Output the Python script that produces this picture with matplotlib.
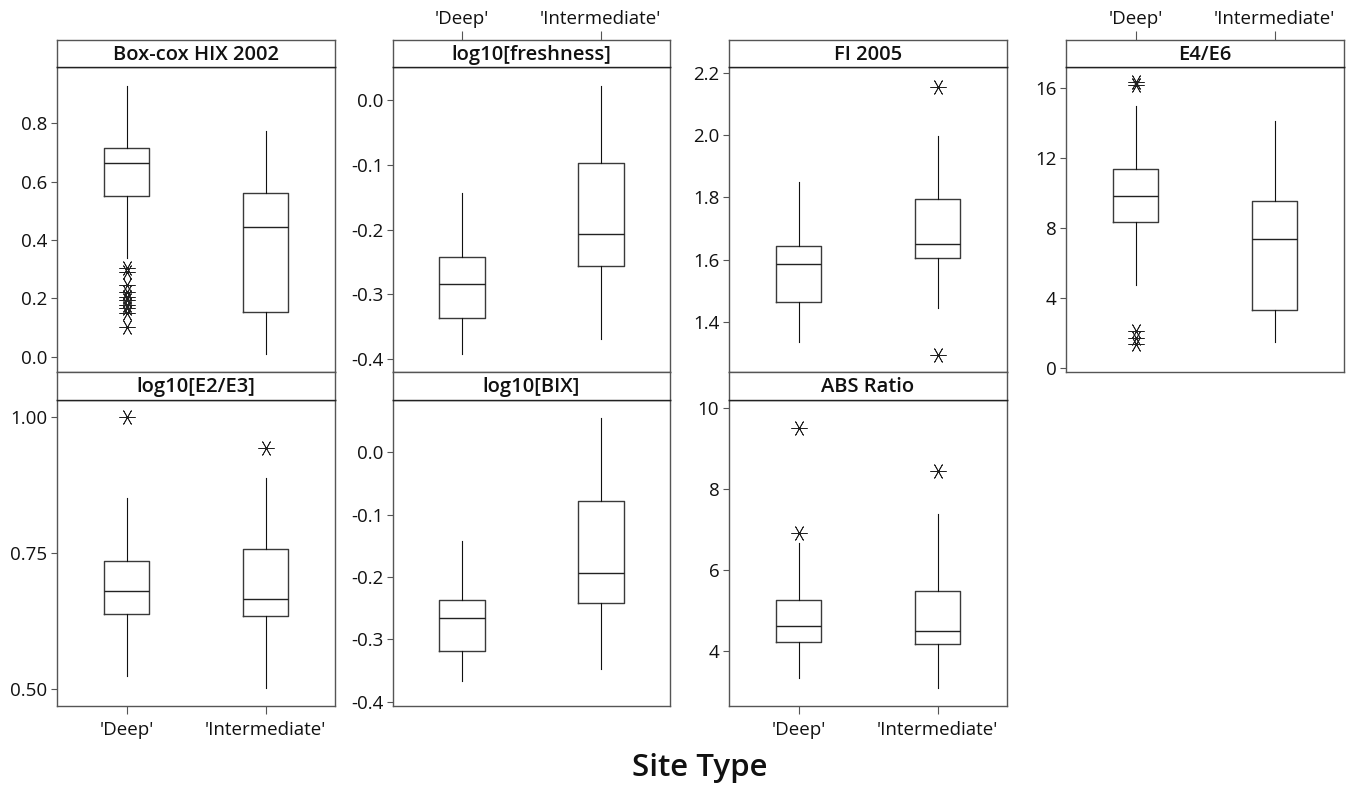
import matplotlib
matplotlib.use("Agg")
import matplotlib.pyplot as plt
from matplotlib.ticker import FormatStrFormatter

plt.rcParams['font.family'] = ['Open Sans', 'DejaVu Sans']

# ---- data: box summaries are [lower whisker, Q1, median, Q3, upper whisker] ----
site_types = ["'Deep'", "'Intermediate'"]
panel_titles = ["Box-cox HIX 2002", "log10[freshness]", "FI 2005", "E4/E6",
                "log10[E2/E3]", "log10[BIX]", "ABS Ratio"]

hix_deep = [0.337, 0.552, 0.665, 0.717, 0.928]
hix_deep_out = [0.306, 0.289, 0.246, 0.223, 0.206, 0.194, 0.177, 0.166, 0.149, 0.103]
hix_inter = [0.009, 0.154, 0.446, 0.560, 0.774]
hix_inter_out = []

fresh_deep = [-0.392, -0.337, -0.284, -0.242, -0.144]
fresh_deep_out = []
fresh_inter = [-0.369, -0.256, -0.207, -0.098, 0.022]
fresh_inter_out = []

fi_deep = [1.336, 1.464, 1.585, 1.644, 1.851]
fi_deep_out = []
fi_inter = [1.443, 1.604, 1.649, 1.795, 1.998]
fi_inter_out = [2.157, 1.293]

e46_deep = [4.74, 8.37, 9.81, 11.36, 14.98]
e46_deep_out = [16.38, 16.19, 2.11, 1.72, 1.34]
e46_inter = [1.49, 3.30, 7.38, 9.52, 14.12]
e46_inter_out = []

e23_deep = [0.524, 0.639, 0.681, 0.736, 0.851]
e23_deep_out = [1.00]
e23_inter = [0.502, 0.635, 0.666, 0.758, 0.888]
e23_inter_out = [0.943]

bix_deep = [-0.367, -0.319, -0.266, -0.237, -0.143]
bix_deep_out = []
bix_inter = [-0.348, -0.242, -0.194, -0.078, 0.055]
bix_inter_out = []

abs_deep = [3.33, 4.23, 4.62, 5.25, 6.655]
abs_deep_out = [9.507, 6.90]
abs_inter = [3.08, 4.17, 4.50, 5.48, 7.39]
abs_inter_out = [8.44]

y_ticks = [
    [0.0, 0.2, 0.4, 0.6, 0.8],
    [-0.4, -0.3, -0.2, -0.1, 0.0],
    [1.4, 1.6, 1.8, 2.0, 2.2],
    [0, 4, 8, 12, 16],
    [0.50, 0.75, 1.00],
    [-0.4, -0.3, -0.2, -0.1, 0.0],
    [4, 6, 8, 10],
]
y_limits = [(-0.052, 0.993), (-0.420, 0.051), (1.238, 2.220), (-0.25, 17.22),
            (0.469, 1.032), (-0.407, 0.084), (2.644, 10.19)]
y_formats = ['%.1f', '%.1f', '%.1f', '%d', '%.2f', '%.1f', '%d']

groups = [
    (hix_deep, hix_deep_out, hix_inter, hix_inter_out),
    (fresh_deep, fresh_deep_out, fresh_inter, fresh_inter_out),
    (fi_deep, fi_deep_out, fi_inter, fi_inter_out),
    (e46_deep, e46_deep_out, e46_inter, e46_inter_out),
    (e23_deep, e23_deep_out, e23_inter, e23_inter_out),
    (bix_deep, bix_deep_out, bix_inter, bix_inter_out),
    (abs_deep, abs_deep_out, abs_inter, abs_inter_out),
]

# ---- layout (pixel geometry of the trellis) ----
W, H = 1346, 790
fig = plt.figure(figsize=(W / 100, H / 100), dpi=100)

col_x = [(57, 335), (393, 670), (729, 1007), (1066, 1344)]
row_y = [((40, 67), (67, 372)), ((372, 400), (400, 706))]
cells = [(0, 0), (0, 1), (0, 2), (0, 3), (1, 0), (1, 1), (1, 2)]
top_labels = {1, 3}
bottom_labels = {4, 6}

frame_col = '#555555'
text_col = '#111111'
tick_size = 13.5
title_size = 14.5


def px_axes(x0, x1, y0, y1):
    return fig.add_axes([x0 / W, 1 - y1 / H, (x1 - x0) / W, (y1 - y0) / H])


def summary(box, fliers, label):
    lo, q1, med, q3, hi = box
    return dict(whislo=lo, q1=q1, med=med, q3=q3, whishi=hi,
                fliers=fliers, label=label)


for i, (r, c) in enumerate(cells):
    (sy0, sy1), (py0, py1) = row_y[r]
    x0, x1 = col_x[c]
    ax = px_axes(x0, x1, py0, py1)
    strip = px_axes(x0, x1, sy0, sy1)

    deep, deep_out, inter, inter_out = groups[i]
    stats = [summary(deep, deep_out, site_types[0]),
             summary(inter, inter_out, site_types[1])]
    ax.bxp(stats, positions=[1, 2], widths=0.33, showcaps=False,
           boxprops=dict(color='#3a3a3a', linewidth=1.0),
           medianprops=dict(color='#222222', linewidth=1.0),
           whiskerprops=dict(color='#111111', linewidth=0.8),
           flierprops=dict(marker=(6, 2, 90), markersize=11.5,
                           markeredgecolor='#222222', markeredgewidth=0.6,
                           linestyle='none'))
    ax.set_xlim(0.5, 2.5)
    ax.set_ylim(*y_limits[i])
    ax.set_yticks(y_ticks[i])
    ax.yaxis.set_major_formatter(FormatStrFormatter(y_formats[i]))
    ax.tick_params(axis='y', length=4, width=0.8, color=frame_col,
                   labelsize=tick_size, labelcolor=text_col, pad=3)
    if i in bottom_labels:
        ax.set_xticks([1, 2])
        ax.set_xticklabels(site_types)
        ax.tick_params(axis='x', length=5.5, width=0.8, color=frame_col,
                       labelsize=tick_size, labelcolor=text_col, pad=5)
    else:
        ax.set_xticks([])
    for s in ax.spines.values():
        s.set_color(frame_col)
        s.set_linewidth(1.0)
    ax.spines['top'].set_color('#222222')

    strip.set_xlim(0.5, 2.5)
    strip.set_ylim(0, 1)
    strip.set_yticks([])
    if i in top_labels:
        strip.set_xticks([1, 2])
        strip.set_xticklabels(site_types)
        strip.xaxis.tick_top()
        strip.tick_params(axis='x', length=6.5, width=0.8, color=frame_col,
                          labelsize=tick_size, labelcolor=text_col, pad=2)
    else:
        strip.set_xticks([])
    for s in strip.spines.values():
        s.set_color(frame_col)
        s.set_linewidth(1.0)
    strip.spines['bottom'].set_color('#222222')
    strip.text(1.5, 0.45, panel_titles[i], ha='center', va='center',
               fontsize=title_size, fontweight='semibold', color=text_col)

fig.text(700 / W, 1 - 776 / H, "Site Type", ha='center', va='baseline',
         fontsize=22.5, fontweight='semibold', color=text_col)

fig.savefig("out.png", dpi=100, facecolor='white')
